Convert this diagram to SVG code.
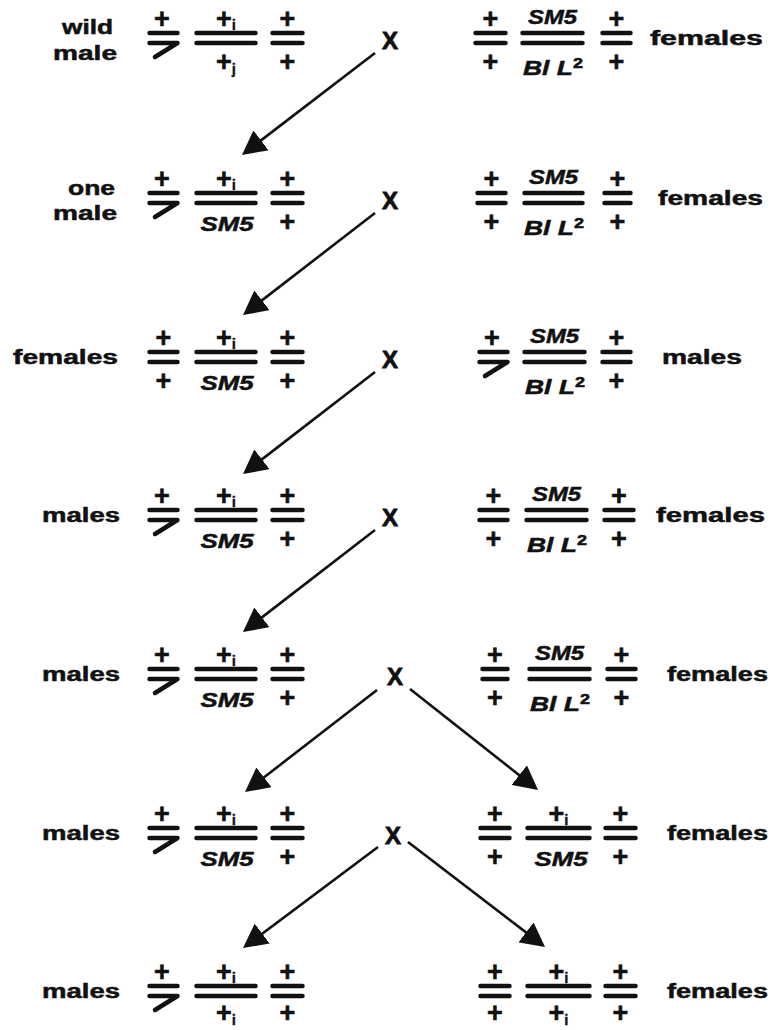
<svg xmlns="http://www.w3.org/2000/svg" width="774" height="1030" viewBox="0 0 774 1030">
<defs>
<style>
.w{font-family:"Liberation Sans",Arial,Helvetica,sans-serif;font-weight:bold;fill:#111;stroke:#111;stroke-width:0.5}
.lab{font-size:20px}
.p{font-size:27px;text-anchor:middle;stroke-width:0.6}
.s{font-size:20.5px;font-style:italic;text-anchor:middle}
.sb{font-size:15px;stroke-width:0.3}
.sp{font-size:14px;font-style:normal}
.x{font-size:24px;text-anchor:middle;stroke-width:0.8}
.bar{stroke:#111;stroke-width:4.5;stroke-linecap:round;stroke-linejoin:round;fill:none}
.arr{stroke:#111;stroke-width:2.6;fill:none;marker-end:url(#ah)}
</style>
<marker id="ah" markerUnits="userSpaceOnUse" markerWidth="24" markerHeight="25" refX="14" refY="12.5" orient="auto" viewBox="0 0 24 25">
<path d="M0,0 L24,12.5 L0,25 z" fill="#111"/>
</marker>
</defs>
<rect width="774" height="1030" fill="#fff"/>

<!-- Row 1 c=38 -->
<g id="r1-left">
<text class="w lab" x="62" y="34" textLength="51" lengthAdjust="spacingAndGlyphs">wild</text>
<text class="w lab" x="53" y="60" textLength="64" lengthAdjust="spacingAndGlyphs">male</text>
<line class="bar" x1="149.5" y1="33" x2="177.5" y2="33"/>
<path class="bar" d="M149.5,43 H177.5 L155,57"/>
<text class="w p" x="162" y="28">+</text>
<line class="bar" x1="196.5" y1="33" x2="255.5" y2="33"/>
<line class="bar" x1="196.5" y1="43" x2="255.5" y2="43"/>
<text class="w p" x="226" y="28">+<tspan class="sb" dy="2">i</tspan></text>
<text class="w p" x="226" y="71">+<tspan class="sb" dy="3">j</tspan></text>
<line class="bar" x1="272.5" y1="33" x2="302.5" y2="33"/>
<line class="bar" x1="272.5" y1="43" x2="302.5" y2="43"/>
<text class="w p" x="287.5" y="28">+</text>
<text class="w p" x="287.5" y="71">+</text>
</g>
<g id="r1-cross"><text class="w x" x="390" y="49">X</text></g>
<g id="r1-right">
<line class="bar" x1="475.5" y1="33" x2="505.5" y2="33"/>
<line class="bar" x1="475.5" y1="43" x2="505.5" y2="43"/>
<text class="w p" x="490.5" y="28">+</text>
<text class="w p" x="490.5" y="71">+</text>
<line class="bar" x1="522.5" y1="33" x2="582.5" y2="33"/>
<line class="bar" x1="522.5" y1="43" x2="582.5" y2="43"/>
<text class="w s" x="552.5" y="24" textLength="49" lengthAdjust="spacingAndGlyphs">SM5</text>
<text class="w s" x="553" y="75" textLength="60" lengthAdjust="spacingAndGlyphs">Bl L<tspan class="sp" dy="-7">2</tspan></text>
<line class="bar" x1="602.5" y1="33" x2="630.5" y2="33"/>
<line class="bar" x1="602.5" y1="43" x2="630.5" y2="43"/>
<text class="w p" x="616.5" y="28">+</text>
<text class="w p" x="616.5" y="71">+</text>
<text class="w lab" x="650" y="45" textLength="113" lengthAdjust="spacingAndGlyphs">females</text>
</g>

<!-- Row 2 c=198 -->
<g id="r2-left">
<text class="w lab" x="68" y="195" textLength="47" lengthAdjust="spacingAndGlyphs">one</text>
<text class="w lab" x="53" y="220" textLength="64" lengthAdjust="spacingAndGlyphs">male</text>
<line class="bar" x1="149.5" y1="193" x2="177.5" y2="193"/>
<path class="bar" d="M149.5,203 H177.5 L155,217"/>
<text class="w p" x="162" y="188">+</text>
<line class="bar" x1="196.5" y1="193" x2="255.5" y2="193"/>
<line class="bar" x1="196.5" y1="203" x2="255.5" y2="203"/>
<text class="w p" x="226" y="188">+<tspan class="sb" dy="2">i</tspan></text>
<text class="w s" x="227" y="231" textLength="53" lengthAdjust="spacingAndGlyphs">SM5</text>
<line class="bar" x1="272.5" y1="193" x2="302.5" y2="193"/>
<line class="bar" x1="272.5" y1="203" x2="302.5" y2="203"/>
<text class="w p" x="287.5" y="188">+</text>
<text class="w p" x="287.5" y="231">+</text>
</g>
<g id="r2-cross"><text class="w x" x="390" y="209">X</text></g>
<g id="r2-right">
<line class="bar" x1="477.5" y1="193" x2="505.5" y2="193"/>
<line class="bar" x1="477.5" y1="203" x2="505.5" y2="203"/>
<text class="w p" x="491.5" y="188">+</text>
<text class="w p" x="491.5" y="231">+</text>
<line class="bar" x1="524.5" y1="193" x2="582.5" y2="193"/>
<line class="bar" x1="524.5" y1="203" x2="582.5" y2="203"/>
<text class="w s" x="553.5" y="184" textLength="49" lengthAdjust="spacingAndGlyphs">SM5</text>
<text class="w s" x="554" y="235" textLength="60" lengthAdjust="spacingAndGlyphs">Bl L<tspan class="sp" dy="-7">2</tspan></text>
<line class="bar" x1="604.5" y1="193" x2="630.5" y2="193"/>
<line class="bar" x1="604.5" y1="203" x2="630.5" y2="203"/>
<text class="w p" x="617.5" y="188">+</text>
<text class="w p" x="617.5" y="231">+</text>
<text class="w lab" x="658" y="205" textLength="105" lengthAdjust="spacingAndGlyphs">females</text>
</g>

<!-- Row 3 c=357 -->
<g id="r3-left">
<text class="w lab" x="13" y="364" textLength="105" lengthAdjust="spacingAndGlyphs">females</text>
<line class="bar" x1="149.5" y1="352" x2="177.5" y2="352"/>
<line class="bar" x1="149.5" y1="362" x2="177.5" y2="362"/>
<text class="w p" x="163.5" y="347">+</text>
<text class="w p" x="163.5" y="390">+</text>
<line class="bar" x1="196.5" y1="352" x2="255.5" y2="352"/>
<line class="bar" x1="196.5" y1="362" x2="255.5" y2="362"/>
<text class="w p" x="226" y="347">+<tspan class="sb" dy="2">i</tspan></text>
<text class="w s" x="227" y="390" textLength="53" lengthAdjust="spacingAndGlyphs">SM5</text>
<line class="bar" x1="272.5" y1="352" x2="302.5" y2="352"/>
<line class="bar" x1="272.5" y1="362" x2="302.5" y2="362"/>
<text class="w p" x="287.5" y="347">+</text>
<text class="w p" x="287.5" y="390">+</text>
</g>
<g id="r3-cross"><text class="w x" x="390" y="368">X</text></g>
<g id="r3-right">
<line class="bar" x1="479.5" y1="352" x2="507.5" y2="352"/>
<path class="bar" d="M479.5,362 H507.5 L485,376"/>
<text class="w p" x="492" y="347">+</text>
<line class="bar" x1="524.5" y1="352" x2="584.5" y2="352"/>
<line class="bar" x1="524.5" y1="362" x2="584.5" y2="362"/>
<text class="w s" x="554.5" y="343" textLength="49" lengthAdjust="spacingAndGlyphs">SM5</text>
<text class="w s" x="555" y="394" textLength="60" lengthAdjust="spacingAndGlyphs">Bl L<tspan class="sp" dy="-7">2</tspan></text>
<line class="bar" x1="602.5" y1="352" x2="630.5" y2="352"/>
<line class="bar" x1="602.5" y1="362" x2="630.5" y2="362"/>
<text class="w p" x="616.5" y="347">+</text>
<text class="w p" x="616.5" y="390">+</text>
<text class="w lab" x="662" y="364" textLength="80" lengthAdjust="spacingAndGlyphs">males</text>
</g>

<!-- Row 4 c=515 -->
<g id="r4-left">
<text class="w lab" x="42" y="522" textLength="78" lengthAdjust="spacingAndGlyphs">males</text>
<line class="bar" x1="149.5" y1="510" x2="177.5" y2="510"/>
<path class="bar" d="M149.5,520 H177.5 L155,534"/>
<text class="w p" x="162" y="505">+</text>
<line class="bar" x1="196.5" y1="510" x2="255.5" y2="510"/>
<line class="bar" x1="196.5" y1="520" x2="255.5" y2="520"/>
<text class="w p" x="226" y="505">+<tspan class="sb" dy="2">i</tspan></text>
<text class="w s" x="227" y="548" textLength="53" lengthAdjust="spacingAndGlyphs">SM5</text>
<line class="bar" x1="272.5" y1="510" x2="302.5" y2="510"/>
<line class="bar" x1="272.5" y1="520" x2="302.5" y2="520"/>
<text class="w p" x="287.5" y="505">+</text>
<text class="w p" x="287.5" y="548">+</text>
</g>
<g id="r4-cross"><text class="w x" x="390" y="526">X</text></g>
<g id="r4-right">
<line class="bar" x1="479.5" y1="510" x2="507.5" y2="510"/>
<line class="bar" x1="479.5" y1="520" x2="507.5" y2="520"/>
<text class="w p" x="493.5" y="505">+</text>
<text class="w p" x="493.5" y="548">+</text>
<line class="bar" x1="526.5" y1="510" x2="586.5" y2="510"/>
<line class="bar" x1="526.5" y1="520" x2="586.5" y2="520"/>
<text class="w s" x="556.5" y="501" textLength="49" lengthAdjust="spacingAndGlyphs">SM5</text>
<text class="w s" x="557" y="552" textLength="60" lengthAdjust="spacingAndGlyphs">Bl L<tspan class="sp" dy="-7">2</tspan></text>
<line class="bar" x1="604.5" y1="510" x2="633.5" y2="510"/>
<line class="bar" x1="604.5" y1="520" x2="633.5" y2="520"/>
<text class="w p" x="619" y="505">+</text>
<text class="w p" x="619" y="548">+</text>
<text class="w lab" x="656" y="522" textLength="109" lengthAdjust="spacingAndGlyphs">females</text>
</g>

<!-- Row 5 c=674 -->
<g id="r5-left">
<text class="w lab" x="42" y="681" textLength="78" lengthAdjust="spacingAndGlyphs">males</text>
<line class="bar" x1="149.5" y1="669" x2="177.5" y2="669"/>
<path class="bar" d="M149.5,679 H177.5 L155,693"/>
<text class="w p" x="162" y="664">+</text>
<line class="bar" x1="196.5" y1="669" x2="255.5" y2="669"/>
<line class="bar" x1="196.5" y1="679" x2="255.5" y2="679"/>
<text class="w p" x="226" y="664">+<tspan class="sb" dy="2">i</tspan></text>
<text class="w s" x="227" y="707" textLength="53" lengthAdjust="spacingAndGlyphs">SM5</text>
<line class="bar" x1="272.5" y1="669" x2="302.5" y2="669"/>
<line class="bar" x1="272.5" y1="679" x2="302.5" y2="679"/>
<text class="w p" x="287.5" y="664">+</text>
<text class="w p" x="287.5" y="707">+</text>
</g>
<g id="r5-cross"><text class="w x" x="395" y="685">X</text></g>
<g id="r5-right">
<line class="bar" x1="482.5" y1="669" x2="507.5" y2="669"/>
<line class="bar" x1="482.5" y1="679" x2="507.5" y2="679"/>
<text class="w p" x="495" y="664">+</text>
<text class="w p" x="495" y="707">+</text>
<line class="bar" x1="529.5" y1="669" x2="589.5" y2="669"/>
<line class="bar" x1="529.5" y1="679" x2="589.5" y2="679"/>
<text class="w s" x="559.5" y="660" textLength="49" lengthAdjust="spacingAndGlyphs">SM5</text>
<text class="w s" x="560" y="711" textLength="60" lengthAdjust="spacingAndGlyphs">Bl L<tspan class="sp" dy="-7">2</tspan></text>
<line class="bar" x1="607.5" y1="669" x2="635.5" y2="669"/>
<line class="bar" x1="607.5" y1="679" x2="635.5" y2="679"/>
<text class="w p" x="621.5" y="664">+</text>
<text class="w p" x="621.5" y="707">+</text>
<text class="w lab" x="667" y="681" textLength="101" lengthAdjust="spacingAndGlyphs">females</text>
</g>

<!-- Row 6 c=833 -->
<g id="r6-left">
<text class="w lab" x="42" y="840" textLength="78" lengthAdjust="spacingAndGlyphs">males</text>
<line class="bar" x1="149.5" y1="828" x2="177.5" y2="828"/>
<path class="bar" d="M149.5,838 H177.5 L155,852"/>
<text class="w p" x="162" y="823">+</text>
<line class="bar" x1="196.5" y1="828" x2="255.5" y2="828"/>
<line class="bar" x1="196.5" y1="838" x2="255.5" y2="838"/>
<text class="w p" x="226" y="823">+<tspan class="sb" dy="2">i</tspan></text>
<text class="w s" x="227" y="866" textLength="53" lengthAdjust="spacingAndGlyphs">SM5</text>
<line class="bar" x1="272.5" y1="828" x2="302.5" y2="828"/>
<line class="bar" x1="272.5" y1="838" x2="302.5" y2="838"/>
<text class="w p" x="287.5" y="823">+</text>
<text class="w p" x="287.5" y="866">+</text>
</g>
<g id="r6-cross"><text class="w x" x="393" y="844">X</text></g>
<g id="r6-right">
<line class="bar" x1="480.5" y1="828" x2="509.5" y2="828"/>
<line class="bar" x1="480.5" y1="838" x2="509.5" y2="838"/>
<text class="w p" x="495" y="823">+</text>
<text class="w p" x="495" y="866">+</text>
<line class="bar" x1="527.5" y1="828" x2="589.5" y2="828"/>
<line class="bar" x1="527.5" y1="838" x2="589.5" y2="838"/>
<text class="w p" x="558.5" y="823">+<tspan class="sb" dy="2">i</tspan></text>
<text class="w s" x="561" y="866" textLength="53" lengthAdjust="spacingAndGlyphs">SM5</text>
<line class="bar" x1="605.5" y1="828" x2="635.5" y2="828"/>
<line class="bar" x1="605.5" y1="838" x2="635.5" y2="838"/>
<text class="w p" x="620.5" y="823">+</text>
<text class="w p" x="620.5" y="866">+</text>
<text class="w lab" x="667" y="840" textLength="101" lengthAdjust="spacingAndGlyphs">females</text>
</g>

<!-- Row 7 c=991 -->
<g id="r7-left">
<text class="w lab" x="42" y="998" textLength="78" lengthAdjust="spacingAndGlyphs">males</text>
<line class="bar" x1="149.5" y1="986" x2="177.5" y2="986"/>
<path class="bar" d="M149.5,996 H177.5 L155,1010"/>
<text class="w p" x="162" y="981">+</text>
<line class="bar" x1="196.5" y1="986" x2="255.5" y2="986"/>
<line class="bar" x1="196.5" y1="996" x2="255.5" y2="996"/>
<text class="w p" x="226" y="981">+<tspan class="sb" dy="2">i</tspan></text>
<text class="w p" x="226" y="1022">+<tspan class="sb" dy="3">i</tspan></text>
<line class="bar" x1="272.5" y1="986" x2="302.5" y2="986"/>
<line class="bar" x1="272.5" y1="996" x2="302.5" y2="996"/>
<text class="w p" x="287.5" y="981">+</text>
<text class="w p" x="287.5" y="1022">+</text>
</g>
<g id="r7-right">
<line class="bar" x1="480.5" y1="986" x2="509.5" y2="986"/>
<line class="bar" x1="480.5" y1="996" x2="509.5" y2="996"/>
<text class="w p" x="495" y="981">+</text>
<text class="w p" x="495" y="1022">+</text>
<line class="bar" x1="527.5" y1="986" x2="589.5" y2="986"/>
<line class="bar" x1="527.5" y1="996" x2="589.5" y2="996"/>
<text class="w p" x="558.5" y="981">+<tspan class="sb" dy="2">i</tspan></text>
<text class="w p" x="558.5" y="1022">+<tspan class="sb" dy="3">i</tspan></text>
<line class="bar" x1="605.5" y1="986" x2="635.5" y2="986"/>
<line class="bar" x1="605.5" y1="996" x2="635.5" y2="996"/>
<text class="w p" x="620.5" y="981">+</text>
<text class="w p" x="620.5" y="1022">+</text>
<text class="w lab" x="667" y="998" textLength="101" lengthAdjust="spacingAndGlyphs">females</text>
</g>

<g id="connectors">
<line class="arr" x1="375" y1="53" x2="249.9" y2="148.9"/>
<line class="arr" x1="375" y1="213" x2="250.9" y2="308.9"/>
<line class="arr" x1="375" y1="372" x2="250.9" y2="467.9"/>
<line class="arr" x1="375" y1="530" x2="250.9" y2="625.9"/>
<line class="arr" x1="377" y1="690" x2="252.9" y2="785.9"/>
<line class="arr" x1="410" y1="689" x2="530.2" y2="783.8"/>
<line class="arr" x1="378" y1="847" x2="251" y2="942"/>
<line class="arr" x1="408" y1="842" x2="537.1" y2="940.9"/>
</g>
</svg>
